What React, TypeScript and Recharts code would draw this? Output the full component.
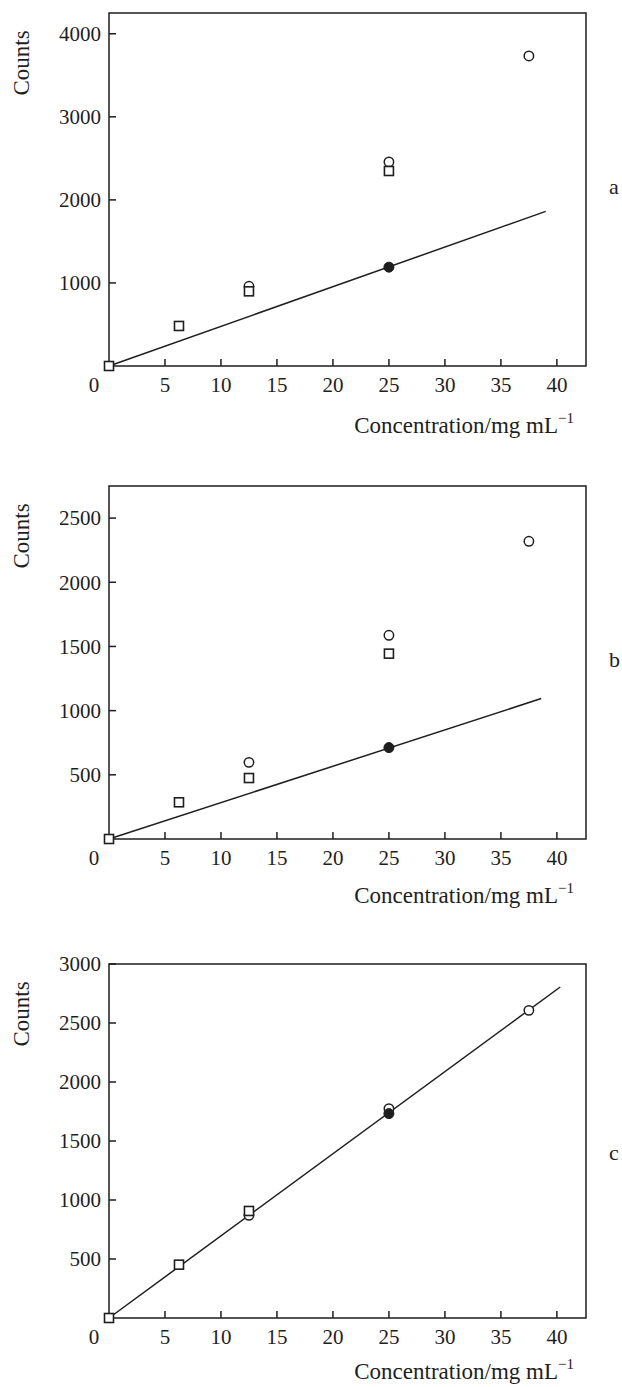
import { ScatterChart, Scatter, XAxis, YAxis, ReferenceArea, Label } from "recharts";

const xTicks = [0, 5, 10, 15, 20, 25, 30, 35, 40];
const xMax = 42.6;

// panel a
const aSquareX = [0, 6.25, 12.5, 25];
const aSquareY = [0, 482, 899, 2348];
const aCircleX = [12.5, 25, 37.5];
const aCircleY = [960, 2457, 3733];
const aFilledX = [25];
const aFilledY = [1190];
const aFitX = [0, 39.0];
const aFitY = [0, 1862];
const aTicks = [1000, 2000, 3000, 4000];

// panel b
const bSquareX = [0, 6.25, 12.5, 25];
const bSquareY = [0, 286, 475, 1444];
const bCircleX = [12.5, 25, 37.5];
const bCircleY = [597, 1587, 2319];
const bFilledX = [25];
const bFilledY = [712];
const bFitX = [0, 38.6];
const bFitY = [0, 1094];
const bTicks = [500, 1000, 1500, 2000, 2500];

// panel c
const cSquareX = [0, 6.25, 12.5];
const cSquareY = [0, 452, 907];
const cCircleX = [12.5, 25, 37.5];
const cCircleY = [870, 1774, 2607];
const cFilledX = [25];
const cFilledY = [1732];
const cFitX = [0, 40.3];
const cFitY = [0, 2805];
const cTicks = [500, 1000, 1500, 2000, 2500, 3000];

const pts = (xs: number[], ys: number[]) => xs.map((x, i) => ({ x, y: ys[i] }));

const INK = "#1e1e1e";
const FONT = "'Liberation Serif', 'DejaVu Serif', serif";

function XTick(props: any) {
  const { x, y, payload } = props;
  const v = payload.value;
  return (
    <g>
      {v !== 0 && <line x1={x} y1={y} x2={x} y2={y - 7} stroke={INK} strokeWidth={1.5} />}
      <text x={v === 0 ? x - 15 : x} y={y + 26} textAnchor="middle" fontSize={21} fill={INK} fontFamily={FONT}>
        {v}
      </text>
    </g>
  );
}

function YTick(props: any) {
  const { x, y, payload } = props;
  return (
    <g>
      <line x1={x} y1={y} x2={x + 7} y2={y} stroke={INK} strokeWidth={1.5} />
      <text x={x - 8} y={y} dy="0.35em" textAnchor="end" fontSize={21} fill={INK} fontFamily={FONT}>
        {payload.value}
      </text>
    </g>
  );
}

const squareShape = (p: any) => (
  <rect x={p.cx - 4.5} y={p.cy - 4.5} width={9} height={9} fill="white" stroke={INK} strokeWidth={1.6} />
);
const circleShape = (p: any) => <circle cx={p.cx} cy={p.cy} r={4.7} fill="white" stroke={INK} strokeWidth={1.5} />;
const filledShape = (p: any) => <circle cx={p.cx} cy={p.cy} r={5} fill={INK} stroke={INK} strokeWidth={1} />;

type PanelProps = {
  top: number;
  marginTop: number;
  height: number;
  yMax: number;
  yTicks: number[];
  titleGap: number;
  squares: { x: number; y: number }[];
  circles: { x: number; y: number }[];
  filled: { x: number; y: number }[];
  fit: { x: number; y: number }[];
};

function Panel({ top, marginTop, height, yMax, yTicks, titleGap, squares, circles, filled, fit }: PanelProps) {
  return (
    <div style={{ position: "absolute", left: 0, top }}>
      <ScatterChart width={622} height={height} margin={{ top: marginTop, right: 36, bottom: 0, left: 49 }}>
        <XAxis
          dataKey="x"
          type="number"
          domain={[0, xMax]}
          ticks={xTicks}
          interval={0}
          axisLine={false}
          tickLine={false}
          tickSize={0}
          tickMargin={0}
          height={82}
          tick={(p: any) => <XTick {...p} />}
        >
          <Label
            content={(p: any) => {
              const vb = p.viewBox;
              return (
                <text x={574} y={vb.y + titleGap} textAnchor="end" fontSize={23} fill={INK} fontFamily={FONT}>
                  Concentration/mg mL
                  <tspan dy={-10} fontSize={15}>−1</tspan>
                </text>
              );
            }}
          />
        </XAxis>
        <YAxis
          dataKey="y"
          type="number"
          domain={[0, yMax]}
          ticks={yTicks}
          interval={0}
          axisLine={false}
          tickLine={false}
          tickSize={0}
          tickMargin={0}
          width={60}
          tick={(p: any) => <YTick {...p} />}
        >
          <Label
            content={(p: any) => {
              const vb = p.viewBox;
              const cy = vb.y + 50;
              return (
                <text
                  x={21}
                  y={cy}
                  dy="0.35em"
                  textAnchor="middle"
                  fontSize={23}
                  fill={INK}
                  fontFamily={FONT}
                  transform={`rotate(-90 21 ${cy})`}
                >
                  Counts
                </text>
              );
            }}
          />
        </YAxis>
        <ReferenceArea x1={0} x2={xMax} y1={0} y2={yMax} fill="none" stroke={INK} strokeWidth={1.5} />
        <Scatter data={fit} line={{ stroke: INK, strokeWidth: 1.5 }} shape={() => <g />} isAnimationActive={false} />
        <Scatter data={circles} shape={circleShape} isAnimationActive={false} />
        <Scatter data={filled} shape={filledShape} isAnimationActive={false} />
        <Scatter data={squares} shape={squareShape} isAnimationActive={false} />
      </ScatterChart>
    </div>
  );
}

const letterStyle = (top: number): React.CSSProperties => ({
  position: "absolute",
  left: 609,
  top: top - 13,
  fontFamily: FONT,
  fontSize: 22,
  color: INK,
  lineHeight: "26px",
});

export default function App() {
  return (
    <div style={{ position: "absolute", left: 0, top: 0, width: 622, height: 1387, background: "white", overflow: "hidden" }}>
      <Panel
        top={0}
        marginTop={13}
        height={448}
        yMax={4250}
        yTicks={aTicks}
        titleGap={67}
        squares={pts(aSquareX, aSquareY)}
        circles={pts(aCircleX, aCircleY)}
        filled={pts(aFilledX, aFilledY)}
        fit={pts(aFitX, aFitY)}
      />
      <Panel
        top={470}
        marginTop={16}
        height={451}
        yMax={2750}
        yTicks={bTicks}
        titleGap={64}
        squares={pts(bSquareX, bSquareY)}
        circles={pts(bCircleX, bCircleY)}
        filled={pts(bFilledX, bFilledY)}
        fit={pts(bFitX, bFitY)}
      />
      <Panel
        top={940}
        marginTop={24}
        height={460}
        yMax={3000}
        yTicks={cTicks}
        titleGap={61}
        squares={pts(cSquareX, cSquareY)}
        circles={pts(cCircleX, cCircleY)}
        filled={pts(cFilledX, cFilledY)}
        fit={pts(cFitX, cFitY)}
      />
      <div style={letterStyle(187)}>a</div>
      <div style={letterStyle(660)}>b</div>
      <div style={letterStyle(1153)}>c</div>
    </div>
  );
}
